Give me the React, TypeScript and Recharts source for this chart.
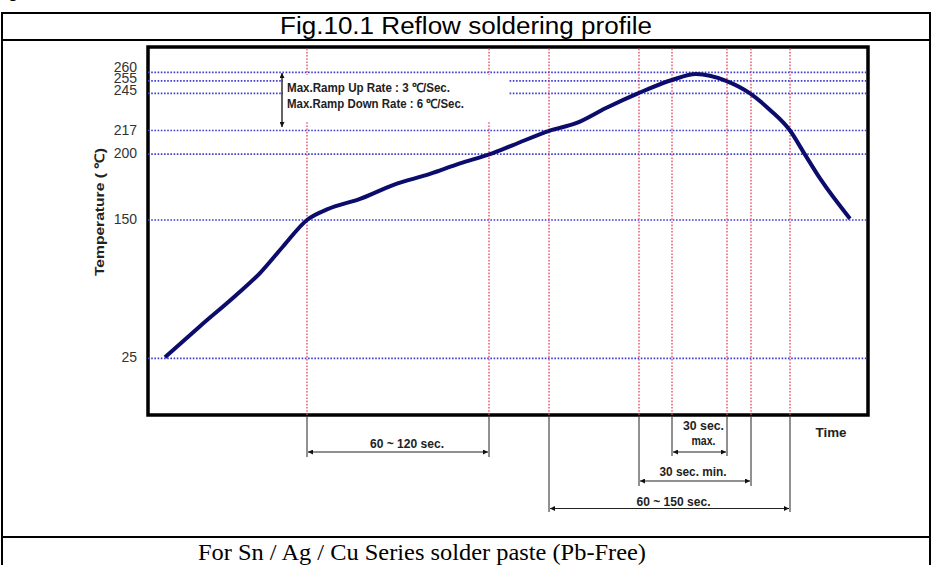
import React from 'react'
import { LineChart, Line, XAxis, YAxis, ReferenceLine, ReferenceArea } from 'recharts'

// profile (time in schematic seconds, temperature in ℃)
const TIME_S = [8.5, 26, 44, 56, 67.5, 79.5, 89.5, 106, 122.5, 141, 156, 171, 182.5, 201, 214, 229, 245, 262, 274, 289, 301, 311, 321, 327.5, 336, 351]
const TEMP_C = [26, 54, 82, 102, 126, 150, 158, 166, 176.5, 185, 193, 200, 206.5, 217, 222.5, 234, 245, 255.5, 259, 255, 245, 232.5, 217, 202, 181.5, 151]

const Y_TICKS = [25, 150, 200, 217, 245, 255, 260]
// red dotted time markers
const MARKER_TIMES = [79.5, 170.5, 200.5, 245.5, 262, 289.5, 301.5, 321]

// dimension arrows under the axis: marker indices + label lines
const SPANS = [
  { from: 0, to: 1, lines: ['60 ~ 120 sec.'] },
  { from: 4, to: 5, lines: ['30 sec.', 'max.'] },
  { from: 3, to: 6, lines: ['30 sec. min.'] },
  { from: 2, to: 7, lines: ['60 ~ 150 sec.'] },
]
const RAMP_NOTES = ['Max.Ramp Up Rate : 3 ℃/Sec.', 'Max.Ramp Down Rate : 6 ℃/Sec.']

const X_MAX = 360
const Y_MIN = 0
const Y_MAX = 280

// the temperature axis of the original is schematic (not linear);
// knots = [temperature, fraction of plot height from the bottom]
const AXIS_KNOTS: [number, number][] = [
  [0, 0], [25, 0.154], [150, 0.53], [200, 0.709], [217, 0.773],
  [245, 0.874], [255, 0.908], [260, 0.931], [280, 1],
]

function knotScale(): any {
  let domain = [Y_MIN, Y_MAX]
  let range = [0, 1]
  const frac = (v: number) => {
    let i = 1
    while (i < AXIS_KNOTS.length - 1 && v > AXIS_KNOTS[i][0]) i++
    const [t0, f0] = AXIS_KNOTS[i - 1]
    const [t1, f1] = AXIS_KNOTS[i]
    return f0 + ((v - t0) / (t1 - t0)) * (f1 - f0)
  }
  const s: any = (v: number) => range[0] + (range[1] - range[0]) * frac(Number(v))
  s.domain = (d?: number[]) => {
    if (d === undefined) return domain.slice()
    domain = d.map(Number)
    return s
  }
  s.range = (r?: number[]) => {
    if (r === undefined) return range.slice()
    range = r.slice()
    return s
  }
  s.copy = () => knotScale().domain(domain).range(range)
  s.ticks = () => Y_TICKS.slice()
  s.clamp = () => s
  return s
}

const W = 931
const H = 565
const PLOT = { left: 148, top: 47, right: 868, bottom: 415 }
const px = (t: number) => PLOT.left + (t / X_MAX) * (PLOT.right - PLOT.left)

const BLUE = '#3d3dd4'
const RED = '#e2435f'
const CURVE = '#0c0c6c'
const SANS = 'Arial, "Liberation Sans", sans-serif'

// label tweaks for the crowded top ticks
const TICK_DY: Record<number, number> = { 260: -5, 255: -3, 245: -3 }

const YTick = (props: any) => {
  const v = props.payload.value
  return (
    <text x={props.x} y={props.y + (TICK_DY[v] ?? -1)} textAnchor="end" dominantBaseline="central"
      fontFamily={SANS} fontSize={14} fill="#333">
      {v}
    </text>
  )
}

// layout of the dimension arrows (arrow y, extension bottom, label baselines, label dx)
const SPAN_LAYOUT = [
  { arrowY: 452, lineEnd: 457, baselines: [447.5], dx: 9, widths: [74] },
  { arrowY: 452, lineEnd: 456, baselines: [430, 445], dx: 4, widths: [41, 24] },
  { arrowY: 481, lineEnd: 486, baselines: [476], dx: -2, widths: [67] },
  { arrowY: 508.5, lineEnd: 512, baselines: [505.5], dx: 4, widths: [74] },
]

function Overlay() {
  return (
    <svg width={W} height={H} style={{ position: 'absolute', left: 0, top: 0, pointerEvents: 'none' }}>
      <defs>
        <marker id="ah" viewBox="0 0 10 10" refX="10" refY="5" markerWidth="6" markerHeight="5"
          orient="auto-start-reverse" markerUnits="userSpaceOnUse">
          <path d="M0,0 L10,5 L0,10 z" fill="#111" />
        </marker>
      </defs>

      {/* table frame (only the descender of the heading above shows) */}
      <text x={-6} y={-2} fontFamily={SANS} fontWeight="bold" fontSize={16}>Fig</text>
      <line x1={2} y1={13} x2={930} y2={13} stroke="#000" strokeWidth={2} />
      <line x1={2} y1={40} x2={930} y2={40} stroke="#000" strokeWidth={2} />
      <line x1={2} y1={537} x2={930} y2={537} stroke="#000" strokeWidth={2} />
      <line x1={2} y1={12} x2={2} y2={H} stroke="#000" strokeWidth={2} />
      <line x1={930} y1={12} x2={930} y2={H} stroke="#000" strokeWidth={2} />
      <text x={466} y={34} textAnchor="middle" fontFamily={SANS} fontSize={23} textLength={372} lengthAdjust="spacingAndGlyphs">
        Fig.10.1 Reflow soldering profile
      </text>
      <text x={422} y={560} textAnchor="middle" fontFamily='"Liberation Serif", "Times New Roman", serif' fontSize={24}
        textLength={448} lengthAdjust="spacingAndGlyphs">
        For Sn / Ag / Cu Series solder paste (Pb-Free)
      </text>

      {/* ramp rate note */}
      <rect x={283} y={75} width={226} height={46} fill="#fff" />
      <line x1={282} y1={73} x2={282} y2={127} stroke="#111" strokeWidth={1.3} markerStart="url(#ah)" markerEnd="url(#ah)" />
      <text x={287} y={91.5} fontFamily={SANS} fontWeight="bold" fontSize={12.5} fill="#222" textLength={163} lengthAdjust="spacingAndGlyphs">
        {RAMP_NOTES[0]}
      </text>
      <text x={287} y={108} fontFamily={SANS} fontWeight="bold" fontSize={12.5} fill="#222" textLength={177} lengthAdjust="spacingAndGlyphs">
        {RAMP_NOTES[1]}
      </text>

      {/* axis titles */}
      <text transform="translate(104 212) rotate(-90)" textAnchor="middle" fontFamily={SANS} fontWeight="bold"
        fontSize={13} fill="#222" textLength={128} lengthAdjust="spacingAndGlyphs">
        Temperature ( ℃)
      </text>
      <text x={831} y={437} textAnchor="middle" fontFamily={SANS} fontWeight="bold" fontSize={13} fill="#222"
        textLength={31} lengthAdjust="spacingAndGlyphs">
        Time
      </text>

      {/* dimension arrows */}
      {SPANS.map((s, i) => {
        const L = SPAN_LAYOUT[i]
        const x1 = px(MARKER_TIMES[s.from])
        const x2 = px(MARKER_TIMES[s.to])
        const cx = (x1 + x2) / 2 + L.dx
        return (
          <g key={i}>
            <line x1={x1} y1={PLOT.bottom + 2} x2={x1} y2={L.lineEnd} stroke="#222" strokeWidth={1} />
            <line x1={x2} y1={PLOT.bottom + 2} x2={x2} y2={L.lineEnd} stroke="#222" strokeWidth={1} />
            <line x1={x1 + 1} y1={L.arrowY} x2={x2 - 1} y2={L.arrowY} stroke="#222" strokeWidth={1.2}
              markerStart="url(#ah)" markerEnd="url(#ah)" />
            {s.lines.map((txt, j) => (
              <text key={j} x={cx} y={L.baselines[j]} textAnchor="middle" fontFamily={SANS} fontWeight="bold"
                fontSize={12.5} fill="#222" textLength={L.widths[j]} lengthAdjust="spacingAndGlyphs">
                {txt}
              </text>
            ))}
          </g>
        )
      })}
    </svg>
  )
}

const data = TIME_S.map((t, i) => ({ t, temp: TEMP_C[i] }))

export default function App() {
  return (
    <div style={{ position: 'absolute', left: 0, top: 0, width: W, height: H, background: '#fff' }}>
      <LineChart width={W} height={H} data={data}
        margin={{ top: PLOT.top, right: W - PLOT.right, bottom: H - PLOT.bottom, left: PLOT.left - 60 }}>
        <XAxis dataKey="t" type="number" domain={[0, X_MAX]} hide />
        <YAxis type="number" domain={[Y_MIN, Y_MAX]} scale={knotScale()} ticks={Y_TICKS} interval={0}
          axisLine={false} tickLine={false} tickSize={0} tickMargin={11} width={60} tick={YTick} />

        {Y_TICKS.map((v) => (
          <ReferenceLine key={`h${v}`} y={v} stroke={BLUE} strokeWidth={1.6} strokeDasharray="1.6 1.6" />
        ))}
        {MARKER_TIMES.map((t) => (
          <ReferenceLine key={`v${t}`} x={t} stroke={RED} strokeWidth={1.3} strokeDasharray="1.6 1.6" />
        ))}

        <Line type="monotone" dataKey="temp" stroke={CURVE} strokeWidth={4} dot={false} isAnimationActive={false} />

        <ReferenceArea x1={0} x2={X_MAX} y1={Y_MIN} y2={Y_MAX} fill="none" stroke="#000" strokeWidth={3.5} />
      </LineChart>
      <Overlay />
    </div>
  )
}
